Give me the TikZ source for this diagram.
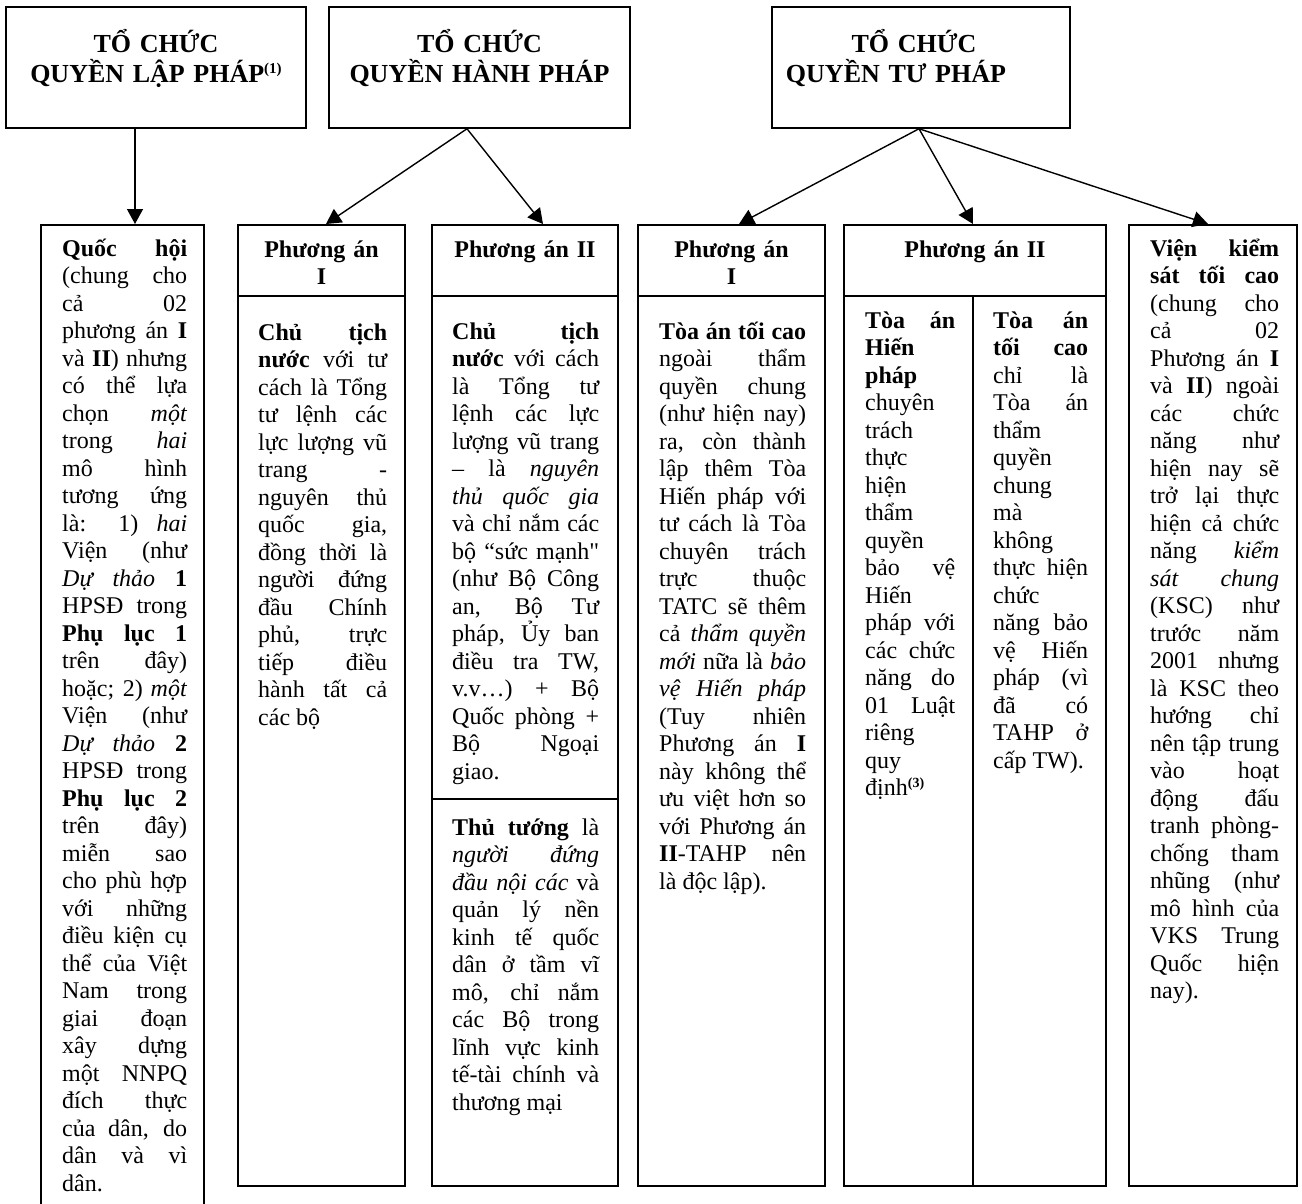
\documentclass[tikz,border=0pt]{standalone}
\usepackage{fontspec}
\setmainfont{Liberation Serif}[Ligatures=TeXOff]
\usetikzlibrary{arrows.meta}
\hyphenpenalty=10000
\exhyphenpenalty=10000
\hbadness=10000
\tolerance=10000
\begin{document}
\begin{tikzpicture}[x=1pt,y=-1pt,
  bx/.style={draw, line width=1.5pt, inner sep=0pt, anchor=north},
  tbx/.style={draw, line width=1.5pt, inner sep=0pt, minimum height=121pt},
  ln/.style={line width=1.5pt},
  arr/.style={line width=1.4pt, -{Triangle[length=15pt,width=16pt]}},
  tt/.style={inner sep=0pt, anchor=base, align=center, text width=290pt, font=\fontsize{26}{30}\selectfont\bfseries},
  hd/.style={inner sep=0pt, anchor=base, align=center, font=\fontsize{24}{27.5}\selectfont\bfseries},
  txt/.style={inner sep=0pt, anchor=base west, align=justify, font=\fontsize{24}{27.5}\selectfont}]
\useasboundingbox (0,0) rectangle (1302,1203);
\fill[white] (0,0) rectangle (1302,1203);
\clip (0,0) rectangle (1302,1203);

% top boxes
\node[tbx, minimum width=300pt] (lp) at (156,67.5) {};
\node[tbx, minimum width=301pt] (hp) at (479.5,67.5) {};
\node[tbx, minimum width=298pt] (tp) at (921,67.5) {};
\node[tt] (lpt) at (156,52.5) {TỔ CHỨC\\QUYỀN LẬP PHÁP\raisebox{9pt}{\fontsize{15}{15}\selectfont(1)}};
\node[tt] (hpt) at (479.5,52.5) {TỔ CHỨC\\QUYỀN HÀNH PHÁP};
\node[tt] (tpt) at (921,52.5) {TỔ CHỨC\kern14pt\\QUYỀN TƯ PHÁP\kern50pt};

% bottom boxes
\node[bx, minimum width=163pt, minimum height=1000pt] (qh) at (122.5,224) {};
\node[bx, minimum width=167pt, minimum height=961pt] (e1) at (321.5,224) {};
\node[bx, minimum width=186pt, minimum height=961pt] (e2) at (525,224) {};
\node[bx, minimum width=187pt, minimum height=961pt] (j1) at (731.5,224) {};
\node[bx, minimum width=262pt, minimum height=961pt] (j2) at (975,224) {};
\node[bx, minimum width=168pt, minimum height=961pt] (vk) at (1213,224) {};

% dividers
\foreach \b in {e1,e2,j1,j2}{
  \draw[ln] ([yshift=-72pt]\b.north west) -- ([yshift=-72pt]\b.north east);
}
\draw[ln] ([yshift=-575pt]e2.north west) -- ([yshift=-575pt]e2.north east);
\coordinate (j2d) at (973,296);
\draw[ln] (j2d) -- (j2d |- j2.south);

% arrows
\draw[arr] ([xshift=-21pt]lp.south) -- ([xshift=12.5pt]qh.north);
\draw[arr] ([xshift=-12.5pt]hp.south) -- ([xshift=4.5pt]e1.north);
\draw[arr] ([xshift=-12.5pt]hp.south) -- ([xshift=18pt]e2.north);
\draw[arr] ([xshift=-2pt]tp.south) -- ([xshift=7.5pt]j1.north);
\draw[arr] ([xshift=-2pt]tp.south) -- ([xshift=-2pt]j2.north);
\draw[arr] ([xshift=-2pt]tp.south) -- ([xshift=-5pt]vk.north);

% headers
\node[hd, text width=150pt] (e1h) at (321.5,257) {Phương án\\I};
\node[hd, text width=170pt] (e2h) at (525,257) {Phương án II};
\node[hd, text width=150pt] (j1h) at (731.5,257) {Phương án\\I};
\node[hd, text width=240pt] (j2h) at (975,257) {Phương án II};

% texts
\node[txt, text width=125pt] (qht) at (62,256) {\textbf{Quốc hội}\linebreak (chung cho\linebreak cả 02\linebreak phương án \textbf{I}\linebreak và \textbf{II}) nhưng\linebreak có thể lựa\linebreak chọn \textit{một}\linebreak trong \textit{hai}\linebreak mô hình\linebreak tương ứng\linebreak là: 1) \textit{hai}\linebreak Viện (như\linebreak \textit{Dự thảo} \textbf{1}\linebreak HPSĐ trong\linebreak \textbf{Phụ lục 1}\linebreak trên đây)\linebreak hoặc; 2) \textit{một}\linebreak Viện (như\linebreak \textit{Dự thảo} \textbf{2}\linebreak HPSĐ trong\linebreak \textbf{Phụ lục 2}\linebreak trên đây)\linebreak miễn sao\linebreak cho phù hợp\linebreak với những\linebreak điều kiện cụ\linebreak thể của Việt\linebreak Nam trong\linebreak giai đoạn\linebreak xây dựng\linebreak một NNPQ\linebreak đích thực\linebreak của dân, do\linebreak dân và vì\linebreak dân.};

\node[txt, text width=129pt] (e1t) at (258,340) {\textbf{Chủ tịch}\linebreak \textbf{nước} với tư\linebreak cách là Tổng\linebreak tư lệnh các\linebreak lực lượng vũ\linebreak trang -\linebreak nguyên thủ\linebreak quốc gia,\linebreak đồng thời là\linebreak người đứng\linebreak đầu Chính\linebreak phủ, trực\linebreak tiếp điều\linebreak hành tất cả\linebreak các bộ};

\node[txt, text width=147pt] (e2t) at (452,339) {\textbf{Chủ tịch}\linebreak \textbf{nước} với cách\linebreak là Tổng tư\linebreak lệnh các lực\linebreak lượng vũ trang\linebreak – là \textit{nguyên}\linebreak \textit{thủ quốc gia}\linebreak và chỉ nắm các\linebreak bộ “sức mạnh"\linebreak (như Bộ Công\linebreak an, Bộ Tư\linebreak pháp, Ủy ban\linebreak điều tra TW,\linebreak v.v…) + Bộ\linebreak Quốc phòng +\linebreak Bộ Ngoại\linebreak giao.};

\node[txt, text width=147pt] (e2b) at (452,835) {\textbf{Thủ tướng} là\linebreak \textit{người đứng}\linebreak \textit{đầu nội các} và\linebreak quản lý nền\linebreak kinh tế quốc\linebreak dân ở tầm vĩ\linebreak mô, chỉ nắm\linebreak các Bộ trong\linebreak lĩnh vực kinh\linebreak tế-tài chính và\linebreak thương mại};

\node[txt, text width=147pt] (j1t) at (659,339) {\textbf{Tòa án tối cao}\linebreak ngoài thẩm\linebreak quyền chung\linebreak (như hiện nay)\linebreak ra, còn thành\linebreak lập thêm Tòa\linebreak Hiến pháp với\linebreak tư cách là Tòa\linebreak chuyên trách\linebreak trực thuộc\linebreak TATC sẽ thêm\linebreak cả \textit{thẩm quyền}\linebreak \textit{mới} nữa là \textit{bảo}\linebreak \textit{vệ Hiến pháp}\linebreak (Tuy nhiên\linebreak Phương án \textbf{I}\linebreak này không thể\linebreak ưu việt hơn so\linebreak với Phương án\linebreak \textbf{II}-TAHP nên\linebreak là độc lập).};

\node[txt, text width=90pt] (j2l) at (865,328) {\textbf{Tòa án}\linebreak \textbf{Hiến}\linebreak \textbf{pháp}\linebreak chuyên\linebreak trách\linebreak thực\linebreak hiện\linebreak thẩm\linebreak quyền\linebreak bảo vệ\linebreak Hiến\linebreak pháp với\linebreak các chức\linebreak năng do\linebreak 01 Luật\linebreak riêng\linebreak quy\linebreak định\raisebox{8pt}{\fontsize{14}{14}\selectfont\bfseries(3)}};

\node[txt, text width=95pt] (j2r) at (993,328) {\textbf{Tòa án}\linebreak \textbf{tối cao}\linebreak chỉ là\linebreak Tòa án\linebreak thẩm\linebreak quyền\linebreak chung\linebreak mà\linebreak không\linebreak thực hiện\linebreak chức\linebreak năng bảo\linebreak vệ Hiến\linebreak pháp (vì\linebreak đã có\linebreak TAHP ở\linebreak cấp TW).};

\node[txt, text width=129pt] (vkt) at (1150,256) {\textbf{Viện kiểm}\linebreak \textbf{sát tối cao}\linebreak (chung cho\linebreak cả 02\linebreak Phương án \textbf{I}\linebreak và \textbf{II}) ngoài\linebreak các chức\linebreak năng như\linebreak hiện nay sẽ\linebreak trở lại thực\linebreak hiện cả chức\linebreak năng \textit{kiểm}\linebreak \textit{sát chung}\linebreak (KSC) như\linebreak trước năm\linebreak 2001 nhưng\linebreak là KSC theo\linebreak hướng chỉ\linebreak nên tập trung\linebreak vào hoạt\linebreak động đấu\linebreak tranh phòng-\linebreak chống tham\linebreak nhũng (như\linebreak mô hình của\linebreak VKS Trung\linebreak Quốc hiện\linebreak nay).};
\end{tikzpicture}
\end{document}
